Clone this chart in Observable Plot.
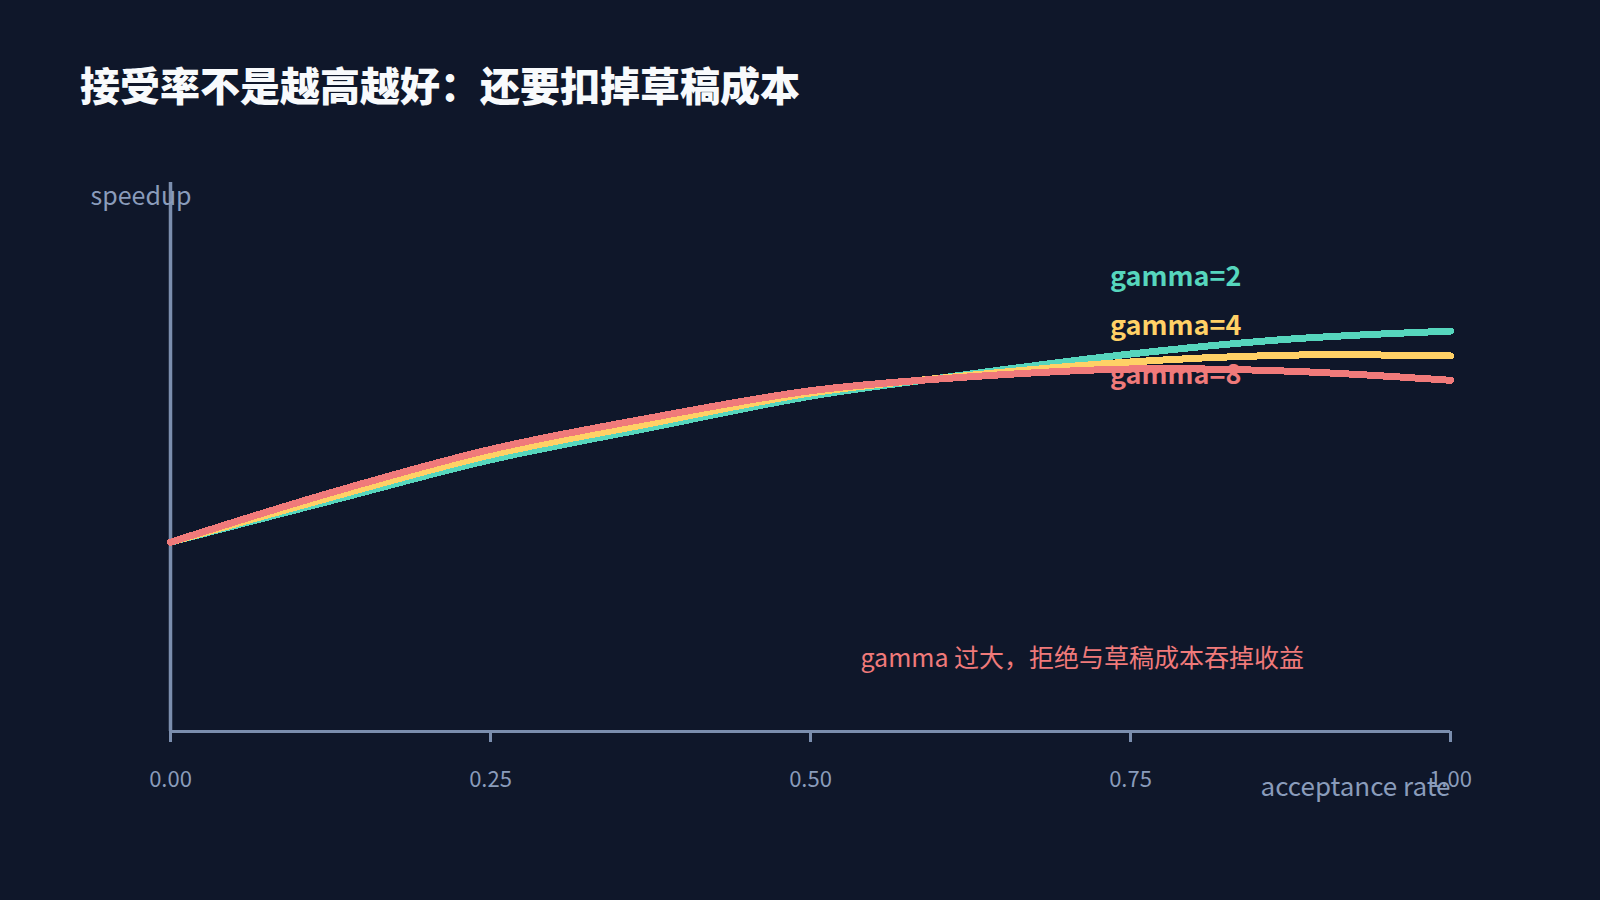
<!DOCTYPE html>
<html><head><meta charset="utf-8">
<script src="https://cdn.jsdelivr.net/npm/d3@7"></script>
<script src="https://cdn.jsdelivr.net/npm/@observablehq/plot@0.6"></script>
<style>
html,body{margin:0;padding:0;background:#0f172a;width:1600px;height:900px;overflow:hidden}
#wrap{position:relative;width:1600px;height:900px}
#title{position:absolute;left:80px;top:64px;margin:0;font-family:"Noto Sans CJK SC",sans-serif;font-weight:900;font-size:40px;line-height:1;color:#f8fafc;white-space:nowrap}
#chart{position:absolute;left:0;top:0}
</style></head><body>
<div id="wrap"><div id="chart"></div><h1 id="title">接受率不是越高越好：还要扣掉草稿成本</h1></div>
<script>
// acceptance rate samples
const alpha  = [0, 0.125, 0.25, 0.375, 0.5, 0.6, 0.75, 0.875, 1.0];
// speedup per draft length
const gamma2 = [1.00, 1.218, 1.435, 1.605, 1.771, 1.866, 1.994, 2.073, 2.115];
const gamma4 = [1.00, 1.236, 1.461, 1.627, 1.788, 1.865, 1.952, 1.988, 1.984];
const gamma8 = [1.00, 1.261, 1.490, 1.657, 1.800, 1.862, 1.915, 1.903, 1.855];
const seriesNames = ["gamma=2", "gamma=4", "gamma=8"];
const seriesColors = ["#56d6bd", "#ffd166", "#f07a7a"];
const xTicks = [0, 0.25, 0.5, 0.75, 1];
const xLabel = "acceptance rate";
const yLabel = "speedup";
const note = "gamma 过大，拒绝与草稿成本吞掉收益";

const axisColor = "#7b8eae";
const textColor = "#8a9cbb";

const seriesValues = [gamma2, gamma4, gamma8];
const rows = seriesNames.flatMap((name, s) =>
  alpha.map((a, i) => ({series: name, alpha: a, speedup: seriesValues[s][i]})));
const labels = seriesNames.map((name, i) => ({series: name, i}));

const chart = Plot.plot({
  width: 1600, height: 900,
  marginLeft: 170, marginRight: 150, marginTop: 182, marginBottom: 169,
  style: {background: "transparent", fontFamily: '"Noto Sans CJK SC", sans-serif', overflow: "visible"},
  x: {domain: [0, 1], axis: null},
  y: {domain: [0, 2.9], axis: null},
  color: {domain: seriesNames, range: seriesColors},
  marks: [
    Plot.ruleY([0], {stroke: axisColor, strokeWidth: 3}),
    Plot.ruleX([0], {stroke: axisColor, strokeWidth: 3.5}),
    Plot.axisX({ticks: xTicks, tickFormat: d3.format(".2f"), tickSize: 11, tickPadding: 29,
      stroke: axisColor, strokeWidth: 3, fill: textColor, fontSize: 22, label: null}),
    Plot.line(rows, {x: "alpha", y: "speedup", z: "series", stroke: "series",
      strokeWidth: 7, curve: "catmull-rom", shapeRendering: "crispEdges"}),
    Plot.text(labels, {x: () => 0.734, y: d => 2.351 - d.i * 0.257, text: "series", fill: "series",
      fontSize: 27, fontWeight: 700, textAnchor: "start", lineAnchor: "bottom"}),
    Plot.text([note], {x: () => 0.539, y: () => 0.343, text: d => d, fill: seriesColors[2],
      fontSize: 25, textAnchor: "start", lineAnchor: "bottom"}),
    Plot.text([xLabel], {frameAnchor: "bottom-right", text: d => d, dy: 64, fill: textColor,
      fontSize: 26, textAnchor: "end", lineAnchor: "bottom"}),
    Plot.text([yLabel], {frameAnchor: "top-left", text: d => d, dx: -80, dy: 22, fill: textColor,
      fontSize: 25, textAnchor: "start", lineAnchor: "bottom"})
  ]
});
document.getElementById("chart").appendChild(chart);
</script>
</body></html>
